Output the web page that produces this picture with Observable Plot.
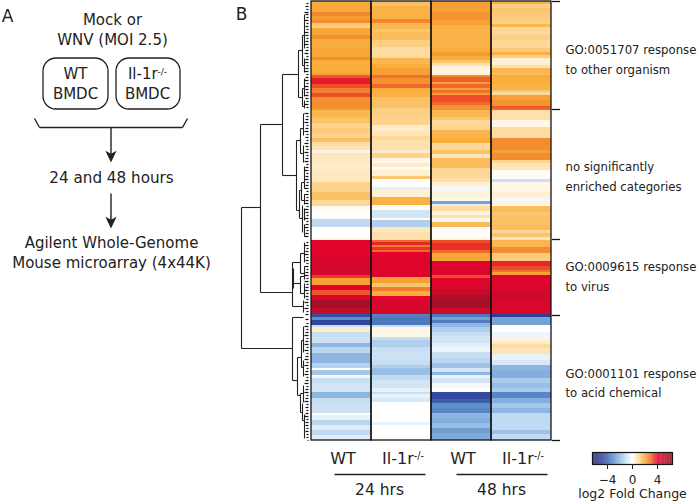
<!DOCTYPE html>
<html>
<head>
<meta charset="utf-8">
<script src="https://cdn.jsdelivr.net/npm/d3@7"></script>
<script src="https://cdn.jsdelivr.net/npm/@observablehq/plot@0.6"></script>
<style>
html,body{margin:0;padding:0;background:#fff;overflow:hidden}
#chart{position:relative;width:700px;height:503px}
#chart svg{position:absolute;left:0;top:0;background:transparent;overflow:visible}
</style>
</head>
<body>
<div id="chart"></div>
<script>
const FONT = "'DejaVu Sans'";
const INK = "#222";

// Heat map: each series lists [last gene row of the run, log2 fold change]
const samples = ["wt24", "il24", "wt48", "il48"];
const sampleLabels = ["WT", "Il-1r-/-", "WT", "Il-1r-/-"];
const wt24 = [[3,2],[12,2.1],[16,2.6],[20,2.3],[23,2.5],[25,1.5],[28,1.3],[35,2.1],[39,2.5],[48,2],[57,2.1],[60,2.5],[73,2],[75,2.2],
 [78,3.2],[84,3.8],[88,3.3],[93,2.7],[97,3.3],[102,2.4],[108,2.5],[110,2.3],[117,1.8],[123,1.6],[128,1.2],[133,1.4],[138,1.2],[142,1.6],[146,1],[150,.8],
 [153,.4],[162,.7],[170,.6],[182,.7],[192,1.2],[200,1.6],[206,1.1],[209,.2],[213,.05],[219,0],[227,-1.1],[238,0],[240,.3],
 [258,4.1],[275,4.5],[278,3.5],[285,2.2],[290,4],[295,3.2],[300,4.3],[308,5.7],[314,5],[317,-4.5],[320,-3],[325,-4.8],[327,-1],[332,.6],[337,-1],[343,-.9],[347,-2],[353,-1.2],[363,-2],[368,-1.3],[370,0],[375,-1.6],
 [378,-.2],[383,-1],[392,-.8],[398,-2],[403,-1],[413,-.9],[415,0],[420,-.4],[425,-1.2],[430,-.6],[435,-1.1],[440,-.6]];
const il24 = [[3,1.7],[6,1.6],[19,1.9],[23,2.6],[29,1.8],[32,1.5],[40,1.7],[47,1.3],[55,1],[58,1.1],[64,1.8],[68,2],[75,2.2],
 [78,2.9],[84,2.4],[88,3],[92,2],[97,1.9],[108,1.6],[117,1.3],[125,1.2],[131,.6],[136,.8],[140,1.1],[150,.9],
 [153,.6],[158,1.2],[163,.3],[167,.6],[170,.1],[176,.5],[179,1.5],[187,0],[190,-.5],[197,.5],[205,1.9],[210,.1],[218,-.8],[220,.1],[227,-1.4],[232,.7],[240,.9],
 [242,3],[245,3.7],[247,2.7],[250,3.6],[252,3],[258,4],[277,4.2],[283,2.2],[287,1.5],[291,2.7],[296,2],[300,4],[314,4.4],[317,-3.3],[325,-3.5],[327,-1],[337,.3],[340,-1],[347,-1.4],[353,-1],[360,-.9],[365,-1],[368,-1.4],[375,-1.8],
 [380,-1.1],[388,-.8],[392,-.4],[394,-1],[398,-.4],[402,-.7],[422,0],[425,-.4],[440,0]];
const wt48 = [[12,2.2],[20,2.4],[25,2.2],[32,1.9],[48,1.9],[52,2],[56,2.3],[60,2],[63,1.5],[66,.9],[75,.4],
 [77,2.5],[82,3.1],[84,2.2],[88,3],[90,2.2],[93,2.9],[95,2.2],[102,3.3],[105,3],[110,2.4],[117,1.8],[120,1.5],[125,1.1],[130,1.2],[134,1.8],[138,1.9],[143,2],[150,1.1],
 [154,1.6],[158,.8],[168,1.7],[178,1.1],[182,.9],[187,.5],[191,-.2],[198,.4],[201,.2],[204,-2.5],[206,-.5],[211,1],[215,.4],[218,.9],[222,.2],[227,1.7],[238,.1],[240,.3],
 [243,3.3],[250,3.6],[253,3],[261,2.1],[275,4.2],[278,3.3],[282,4],[285,4.2],[290,4.4],[295,4.8],[300,5.5],[308,5.7],[314,4.8],[317,-3.5],[320,-2.5],[323,-3.4],[327,-2],[332,-1.4],[336,-1],[343,-.8],[347,-.5],[352,-.3],[358,-1],[363,-1.2],[368,-1.7],[372,-.8],[375,-2],
 [378,-.4],[383,-.8],[388,-.2],[392,0],[399,-4.7],[403,-4],[408,-3],[413,-3.2],[418,-2],[423,-2.2],[428,-1.8],[433,-2.6],[440,-2.3]];
const il48 = [[4,1.9],[8,1.3],[13,1.5],[19,1.4],[24,1.3],[27,1.8],[35,1.1],[40,1.3],[48,1.1],[52,1.4],[55,1.9],[58,1.3],[65,.5],[68,.9],[73,1.8],[75,1.7],
 [84,2],[90,1.9],[92,1.5],[95,1.1],[100,2.2],[106,2.4],[108,3.2],[110,3],[120,.9],[127,.3],[138,1],[150,2.5],
 [153,2.2],[160,2.5],[163,1.2],[170,.8],[179,.1],[182,-.9],[192,.3],[197,.5],[201,-.2],[205,.4],[206,0],[212,1.7],[216,1.5],[225,1.6],[230,1.7],[233,1.1],[237,1.5],[240,.8],
 [247,1.8],[253,2.5],[261,1.4],[266,3.7],[270,3.3],[272,2.9],[275,2.2],[285,4.2],[291,4.3],[300,4.7],[314,4.3],[317,-5],[325,-2.5],[332,0],[338,-.3],[341,.4],[344,.6],[348,1],[354,.8],[360,-.4],[365,-.7],[370,-2],[378,-2.2],
 [383,-1.5],[388,-1.8],[392,-1.5],[398,-3.2],[403,-2.2],[408,-1.6],[413,-2],[430,-1.1],[434,-1.7],[440,-1.1]];
const seriesBySample = {wt24, il24, wt48, il48};
const clusterBreaks = [1, 109, 239, 315, 440];

const colorDomain = [-6.4,-5,-4,-3,-2,-1,-.3,0,.4,1,1.5,2,2.5,3,3.5,4,5,6.4];
const colorRange = ["#262a78","#2f3f98","#3d5fae","#5f90cb","#8db6e2","#c6dff3","#eef5fb","#ffffff","#fff3dd","#fddca2","#fcc670","#f9ad3b","#f48d2f","#f0692a","#ea3c2a","#e4032c","#c40d2c","#8a1024"];
const colorOpts = {type:"linear", domain:colorDomain, range:colorRange, interpolate:"rgb"};

// Colour key
const keyTicks = [-4, 0, 4];
const keyTickLabels = ["−4", "0", "4"];
const keyTitle = "log2 Fold Change";

// Dendrogram branches: [height from left, gene row, height, gene row]
const branches = [
 [241,207,241,348],[241,207,260,207],[241,348,292,348],
 [260,124,260,292],[260,124,282,124],[260,292,292,292],
 [282,74,282,175],[282,74,298,74],[282,175,296,175],
 [298,50,298,97],[298,50,302,50],[298,97,302,97],
 [302,35,302,65],[302,88,302,106],[302,35,304,35],[302,65,304,65],[302,88,304,88],[302,106,304,106],
 [304,14,304,48],[304,58,304,72],[304,78,304,96],[304,100,304,108],
 [296,140,296,210],[296,140,300,140],[296,210,299,210],
 [300,128,300,153],[300,128,303,128],[300,153,303,153],[303,113,303,135],[303,145,303,162],
 [299,190,299,218],[299,190,301,190],[299,218,302,218],[301,182,301,200],[302,205,302,232],
 [301,182,304,182],[301,200,304,200],[304,166,304,188],[304,194,304,204],[304,208,304,220],[304,224,304,236],
 [292,262,292,306],[293,268,293,288],[292,262,300,262],[293,283,300,283],[292,306,303,306],
 [300,253,300,273],[300,253,304,253],[300,273,304,273],[304,242,304,262],[304,266,304,279],
 [300,276,300,293],[300,276,304,276],[300,293,304,293],[304,283,304,298],[303,300,303,312],
 [292,317,292,380],[292,317,303,317],[292,380,297,380],
 [297,357,297,395],[297,357,301,357],[297,395,300,395],
 [301,340,301,367],[301,340,303,340],[301,367,303,367],[303,326,303,352],[303,360,303,376],
 [300,393,300,412],[300,393,303,393],[300,412,302,412],[303,385,303,402],[302,403,302,420],[302,420,304,420],[304,414,304,438]
];
// Leaves: [gene row, branch height]
const leaves = [[3,306],[6,305],[9,306],[12,304],[14,305],[17,306],[20,304],[23,306],[26,305],[29,306],[32,304],[35,305],[38,306],[41,305],[44,304],[47,306],[50,305],[53,304],[56,306],[59,305],[62,304],[65,306],[68,305],[71,304],[74,306],[77,305],[80,304],[83,306],[86,304],[89,305],[92,306],[95,304],[98,305],[101,306],[104,304],[107,306],
 [113,304],[116,306],[119,305],[122,304],[125,306],[128,305],[131,304],[134,306],[137,305],[140,306],[143,304],[146,305],[149,306],[152,304],[155,306],[158,305],[161,304],[164,306],[167,305],[170,304],[173,306],[176,305],[179,304],[182,306],[185,305],[188,304],[191,306],[194,304],[197,306],[200,305],[203,304],[206,306],[209,304],[212,305],[215,306],[218,304],[221,306],[224,305],[227,304],[230,306],[233,305],[236,304],
 [242,306],[245,304],[248,306],[251,305],[254,304],[257,306],[260,305],[263,306],[266,304],[269,306],[272,305],[275,304],[278,306],[281,304],[284,306],[287,305],[290,304],[293,306],[296,305],[299,306],[302,304],[305,306],[308,304],[311,306],[314,305],
 [319,305],[323,306],[326,304],[329,306],[332,305],[335,304],[338,306],[341,305],[344,304],[347,306],[350,304],[353,306],[356,305],[359,304],[362,306],[365,304],[368,306],[371,305],[374,304],[377,306],[380,305],[383,304],[386,306],[389,305],[392,304],[395,306],[398,305],[401,304],[404,306],[407,305],[410,306],[413,305],[416,304],[419,306],[422,305],[425,305],[428,306],[431,305],[434,306],[437,306],[440,307]
];
const leafTip = 308;

// Panel text
const centredText = [
 ["A",7,16,17],["B",241,14,17],
 ["Mock or",112,20,15],["WNV (MOI 2.5)",112,40,15],
 ["WT",75,74,15],["BMDC",75,94,15],
 ["Il-1r-/-",147,74,15],["BMDC",147,94,15],
 ["24 and 48 hours",111,178,15.2],
 ["Agilent Whole-Genome",111,243,15],["Mouse microarray (4x44K)",111,263,15],
 ["24 hrs",379,490,15.5],["48 hrs",501,490,15.5]
];
const annotationText = [
 ["GO:0051707 response",565,50],["to other organism",565,70],
 ["no significantly",565,167],["enriched categories",565,187],
 ["GO:0009615 response",565,267],["to virus",565,287],
 ["GO:0001101 response",565,374],["to acid chemical",565,393]
];
const strainBoxes = [[43,108,58,109],[116,180,58,109]];
const schemeLines = [[34,118,39,127],[39,127,182,127],[182,127,187,118],[110.5,127,110.5,155],[110.5,193,110.5,221]];
const arrowTips = [[110.5,162],[110.5,228]];
const groupLines = [[334,474,425,474],[456,474,547,474]];

const heatRows = samples.flatMap(s => {
  let from = 1;
  return seriesBySample[s].map(([to, v]) => { const r = {sample:s, from, to, v}; from = to; return r; });
});

const heat = Plot.plot({
  width:700, height:503, marginLeft:311, marginRight:149, marginTop:1, marginBottom:63,
  style:{fontFamily:FONT, color:INK},
  x:{domain:samples, padding:0, label:null},
  y:{domain:[1,440], reverse:true, label:null},
  color:colorOpts,
  marks:[
    Plot.barY(heatRows,{x:"sample",y1:"from",y2:"to",fill:"v"}),
    Plot.barY(samples,{x:d=>d,y1:()=>1,y2:()=>440,fill:"none",stroke:"#151515",strokeWidth:1.3}),
    Plot.axisY({anchor:"right",ticks:clusterBreaks,tickSize:8,tickFormat:()=>"",label:null,stroke:"#151515",strokeWidth:1.3}),
    Plot.axisX({anchor:"bottom",tickSize:0,tickPadding:12,dx:1.5,label:null,fontSize:16,tickFormat:d=>sampleLabels[samples.indexOf(d)]})
  ]
});

const seg = a => ({x1:a[0],y1:a[1],x2:a[2],y2:a[3]});
const pixelScale = {x:{domain:[0,700],range:[0,700],axis:null},y:{domain:[0,503],range:[0,503],axis:null}};
const headSymbol = {draw(c,size){const r=Math.sqrt(size/Math.PI);
  c.moveTo(0,0);c.lineTo(-r,-r*2.1);c.lineTo(0,-r*1.55);c.lineTo(r,-r*2.1);c.closePath();}};

const scheme = Plot.plot({
  width:700, height:503, margin:0, ...pixelScale,
  style:{fontFamily:FONT, color:INK},
  marks:[
    Plot.link(branches.map(seg),{x1:"x1",y1:"y1",x2:"x2",y2:"y2",stroke:"#222",strokeWidth:1.1}),
    Plot.link(leaves,{x1:d=>d[1],y1:d=>d[0],x2:()=>leafTip,y2:d=>d[0],stroke:"#111",strokeWidth:1.2}),
    Plot.rect(strainBoxes,{x1:d=>d[0],x2:d=>d[1],y1:d=>d[2],y2:d=>d[3],rx:13,fill:"none",stroke:"#222",strokeWidth:1.3}),
    Plot.link(schemeLines.map(seg),{x1:"x1",y1:"y1",x2:"x2",y2:"y2",stroke:"#222",strokeWidth:1.4}),
    Plot.link(groupLines.map(seg),{x1:"x1",y1:"y1",x2:"x2",y2:"y2",stroke:"#222",strokeWidth:1.3}),
    Plot.dot(arrowTips,{x:d=>d[0],y:d=>d[1],r:5.6,symbol:headSymbol,fill:"#222",stroke:"none"}),
    Plot.text(centredText,{x:d=>d[1],y:d=>d[2],text:d=>d[0],textAnchor:"middle",fontSize:d=>d[3],fill:INK}),
    Plot.text(annotationText,{x:d=>d[1],y:d=>d[2],text:d=>d[0],textAnchor:"start",fontSize:11.7,fill:INK})
  ]
});

const keySteps = d3.range(-64,64).map(i => ({a:i/10,b:(i+1.2)/10,v:(i+.5)/10}));
const key = Plot.plot({
  width:700, height:503, marginLeft:592, marginRight:28, marginTop:452, marginBottom:39,
  style:{fontFamily:FONT, color:INK},
  x:{domain:[-6.4,6.4], label:null},
  y:{domain:[0,1], axis:null},
  color:colorOpts,
  marks:[
    Plot.rectY(keySteps,{x1:"a",x2:"b",y1:()=>0,y2:()=>1,fill:"v"}),
    Plot.frame({stroke:"#151515",strokeWidth:1.2}),
    Plot.axisX({ticks:keyTicks,tickSize:5,tickPadding:6,fontSize:12,label:null,tickFormat:d=>keyTickLabels[keyTicks.indexOf(d)]}),
    Plot.text([keyTitle],{frameAnchor:"bottom",dy:33,fontSize:12.5,fill:INK})
  ]
});

const host = document.getElementById("chart");
[heat, scheme, key].forEach(svg => {
  host.appendChild(svg);
  svg.querySelectorAll("text").forEach(t => {
    if (!t.textContent.trim()) { t.remove(); return; }
    const holder = t.querySelector("tspan") || t;
    const s = holder.textContent;
    if (s.endsWith("-/-")) {
      holder.textContent = s.slice(0,-3);
      const sup = document.createElementNS("http://www.w3.org/2000/svg","tspan");
      sup.textContent = "-/-";
      sup.setAttribute("font-size","60%");
      sup.setAttribute("dy","-0.5em");
      t.appendChild(sup);
    }
  });
});
</script>
</body>
</html>
